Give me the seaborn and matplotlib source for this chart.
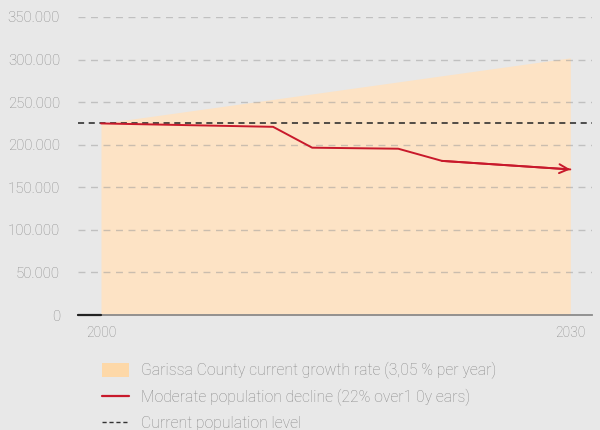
import matplotlib
matplotlib.use("Agg")
import matplotlib.pyplot as plt
from matplotlib.patches import Patch
from matplotlib.lines import Line2D
from matplotlib.ticker import FuncFormatter
import seaborn as sns
import pandas as pd

# Growth scenario (area) and decline scenario (line)
growth_years = [2000, 2030]
growth_pop = [225000, 302000]

decline_years = [2000, 2011, 2013.5, 2019, 2021.8, 2030]
decline_pop = [225000, 221000, 196500, 195300, 181000, 171000]

current_level = 225000

x_ticks = [2000, 2003, 2006, 2009, 2012, 2015, 2018, 2021, 2024, 2027, 2030]
x_labels = ["2000", "", "", "", "", "", "", "", "", "", "2030"]
y_ticks = [0, 50000, 100000, 150000, 200000, 250000, 300000, 350000]

legend_labels = [
    "Garissa County current growth rate (3,05 % per year)",
    "Moderate population decline (22% over1 0y ears)",
    "Current population level",
]

BG = "#e8e8e8"
FILL = "#fde3c5"
FILL_LEG = "#fdd8a8"
RED = "#c8192b"
TXT = "#8a8a8a"

sns.set_theme(style="white")
plt.rcParams["font.family"] = ["Roboto", "DejaVu Sans"]
plt.rcParams["font.weight"] = "light"

fig = plt.figure(figsize=(6, 4.3), dpi=100, facecolor=BG)
ax = fig.add_axes([0.13, 0.2674, 0.857, 0.6931])
ax.set_facecolor(BG)

x_min, x_max = 1998.53, 2031.4
ax.set_xlim(x_min, x_max)
ax.set_ylim(0, 350000)

growth = pd.DataFrame({"year": growth_years, "pop": growth_pop})
decline = pd.DataFrame({"year": decline_years, "pop": decline_pop})

ax.fill_between(growth["year"], 0, growth["pop"], color=FILL, lw=0, zorder=1)

# dashed gridlines drawn over the area
for v in y_ticks[1:]:
    ax.axhline(v, color="#999999", alpha=0.5, lw=1.0, ls=(0, (5, 4)), zorder=2)

ax.axhline(current_level, color="#222222", lw=1.1, ls=(0, (4, 3)), zorder=4)

sns.lineplot(data=decline, x="year", y="pop", ax=ax, color=RED, lw=1.4,
             zorder=5, estimator=None, sort=False)
ax.annotate("", xy=(decline_years[-1], decline_pop[-1]),
            xytext=(decline_years[-2], decline_pop[-2]),
            arrowprops=dict(arrowstyle="->", color=RED, lw=1.4,
                            mutation_scale=16, shrinkA=0, shrinkB=0),
            zorder=6)

# short dark stub on the baseline before the first year
ax.plot([x_min, growth_years[0]], [0, 0], color="#222222", lw=1.6, zorder=6,
        clip_on=False)

for s in ["left", "top", "right"]:
    ax.spines[s].set_visible(False)
ax.spines["bottom"].set_color("#8a8a8a")
ax.spines["bottom"].set_linewidth(1.3)

ax.set_xticks(x_ticks)
ax.set_xticklabels(x_labels)
ax.set_yticks(y_ticks)
ax.yaxis.set_major_formatter(FuncFormatter(lambda v, p: f"{int(v):,}".replace(",", ".")))
ax.tick_params(axis="x", direction="in", length=3, width=1, color="#8a8a8a",
               labelsize=10, labelcolor=TXT, pad=8)
ax.tick_params(axis="y", length=0, labelsize=10.8, labelcolor=TXT, pad=13)
ax.set_xlabel("")
ax.set_ylabel("")

handles = [
    Patch(facecolor=FILL_LEG, edgecolor="none"),
    Line2D([0], [0], color=RED, lw=1.6),
    Line2D([0], [0], color="#333333", lw=1.0, ls=(0, (3, 2))),
]
leg = fig.legend(handles, legend_labels, loc="upper left",
                 bbox_to_anchor=(0.160, 0.172), frameon=False,
                 fontsize=11.3, labelcolor=TXT, handlelength=1.7,
                 handleheight=1.0, handletextpad=0.75, labelspacing=0.6,
                 borderaxespad=0)

fig.savefig("out.png", dpi=100, facecolor=BG)
